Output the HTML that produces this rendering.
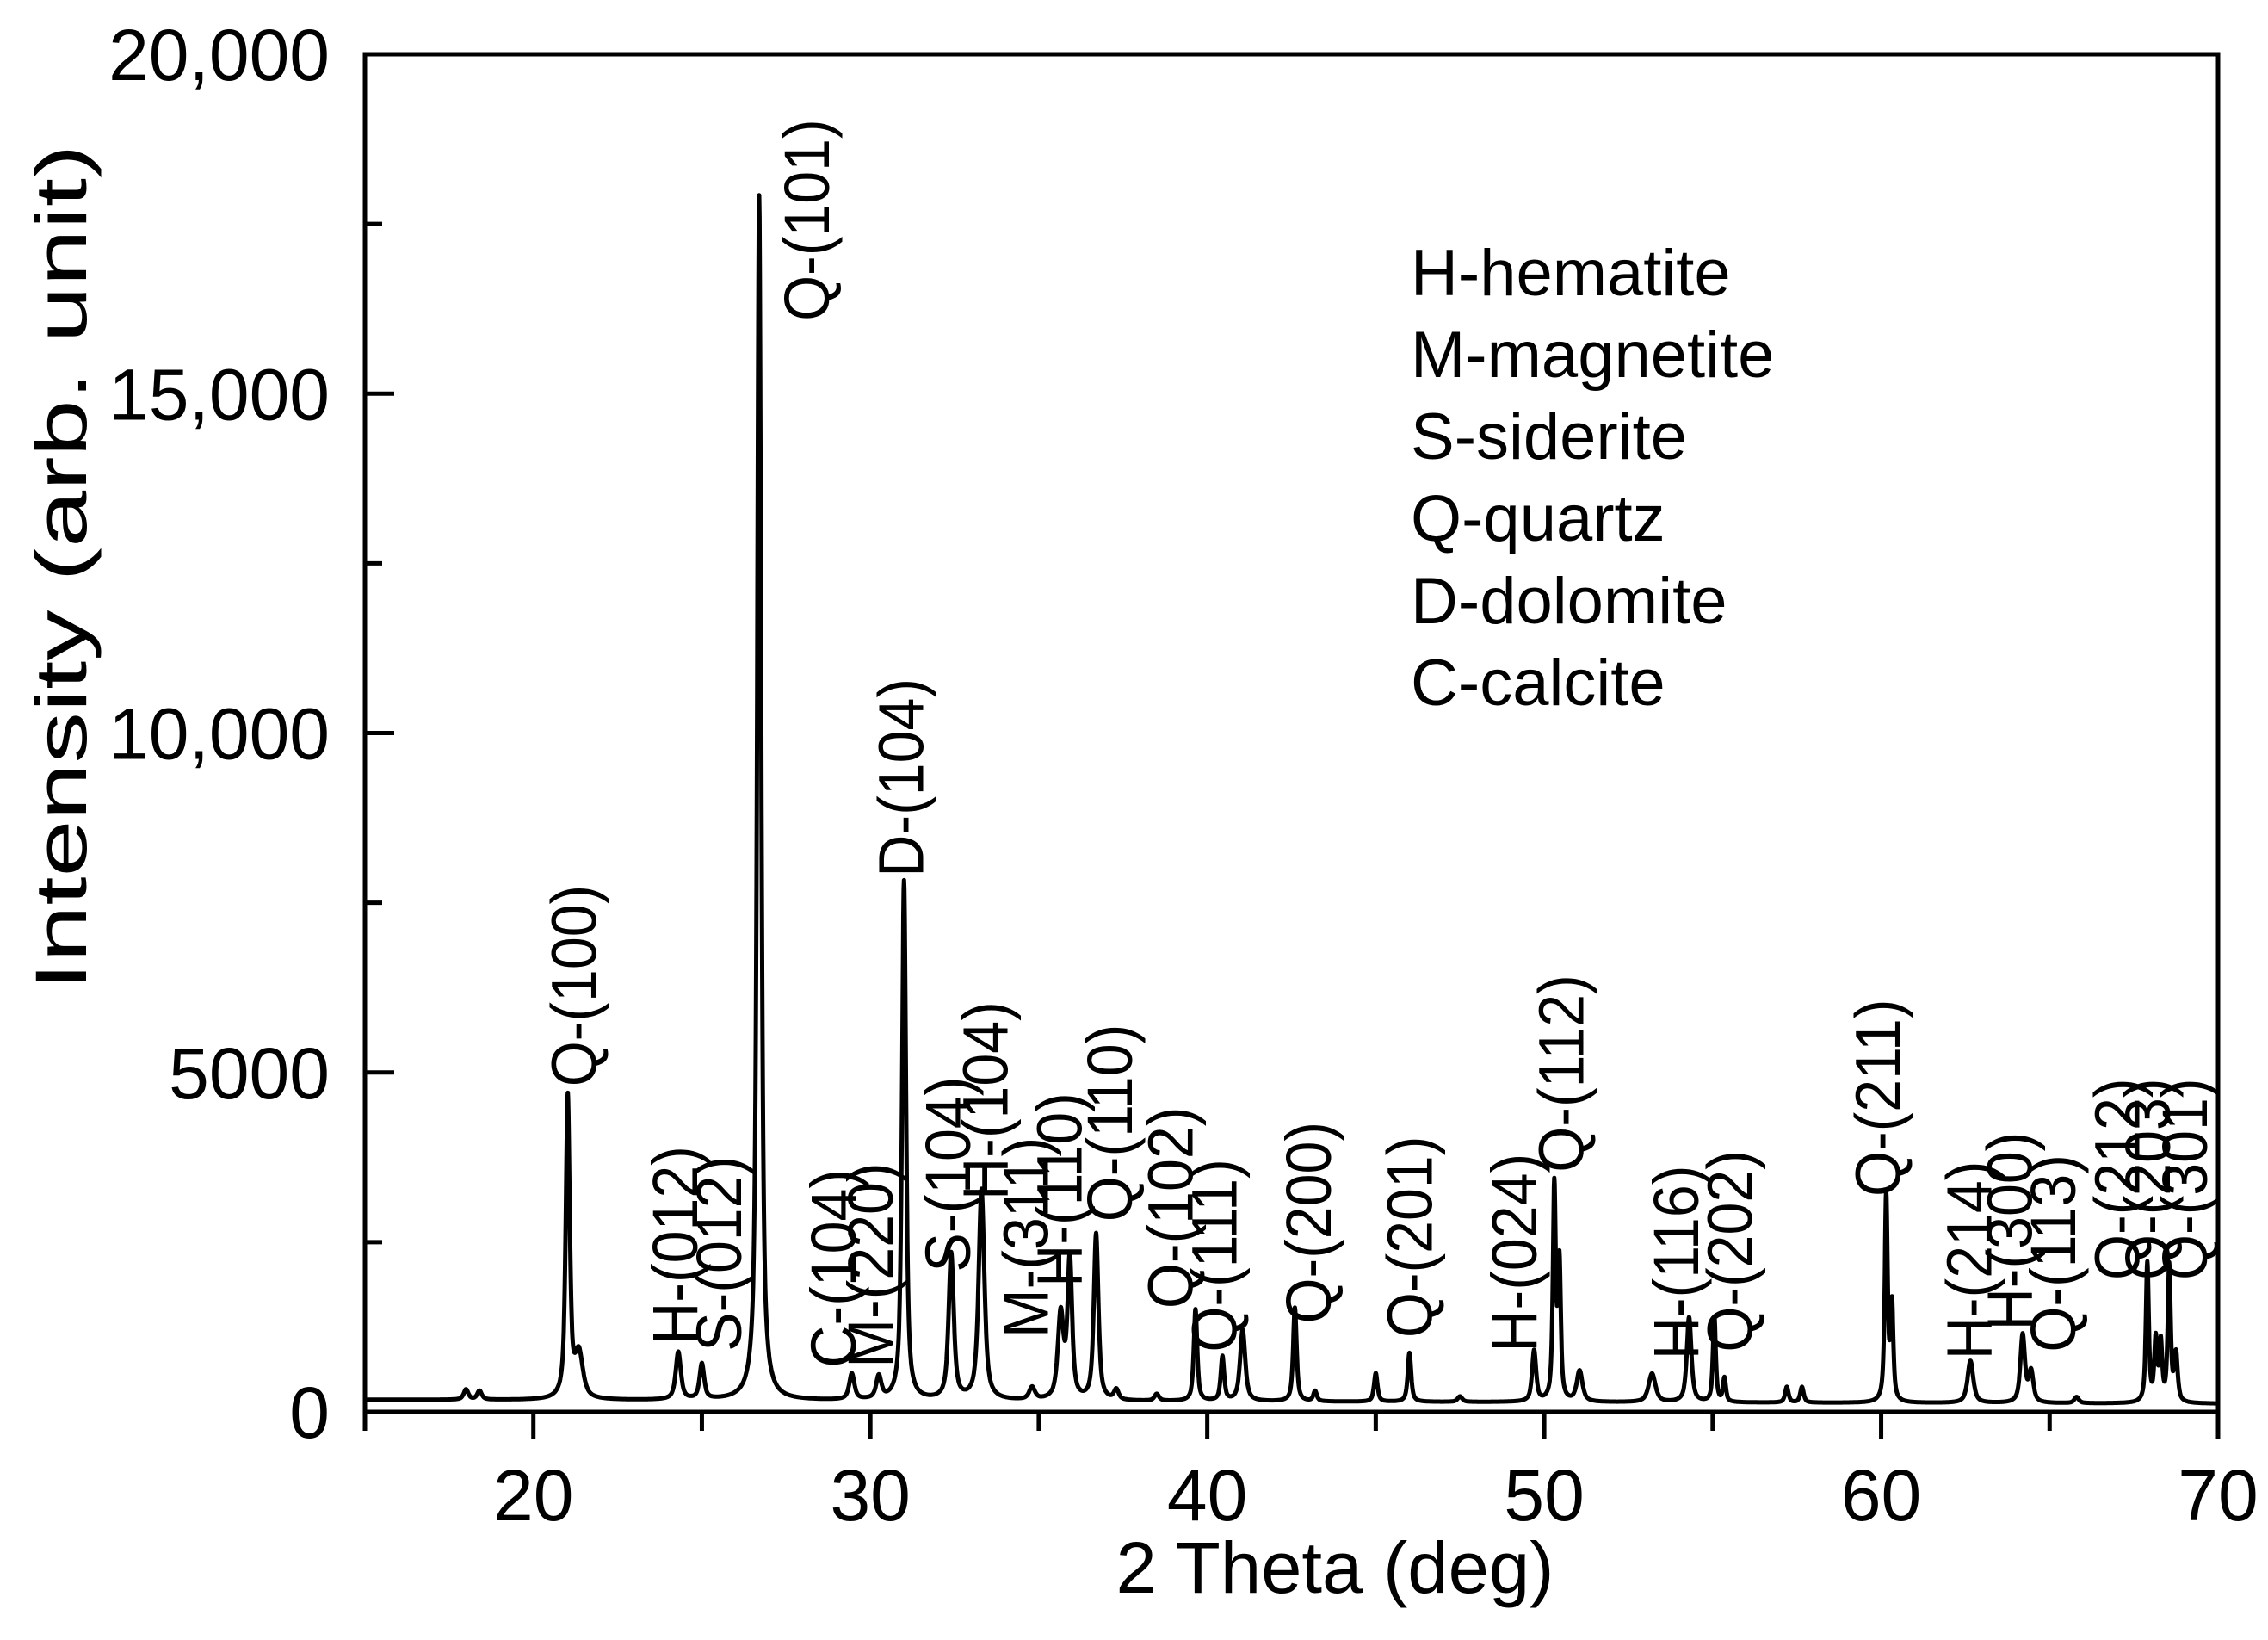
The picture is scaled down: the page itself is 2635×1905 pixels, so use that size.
<!DOCTYPE html>
<html><head><meta charset="utf-8"><style>
html,body{margin:0;padding:0;background:#fff}
svg{display:block}
text{font-family:"Liberation Sans",Arial,sans-serif;fill:#000}
</style></head><body>
<svg id="chart" width="2635" height="1905" viewBox="0 0 2635 1905" xmlns="http://www.w3.org/2000/svg">
<g id="legend" font-size="76">
<text x="1639" y="343">H-hematite</text>
<text x="1639" y="438">M-magnetite</text>
<text x="1639" y="533">S-siderite</text>
<text x="1639" y="628">Q-quartz</text>
<text x="1639" y="724">D-dolomite</text>
<text x="1639" y="819">C-calcite</text>
</g>
<text x="1551" y="1850" font-size="84" text-anchor="middle" textLength="509" lengthAdjust="spacingAndGlyphs">2 Theta (deg)</text>
<text transform="translate(100,659) rotate(-90)" font-size="84" text-anchor="middle" textLength="983" lengthAdjust="spacingAndGlyphs">Intensity (arb. unit)</text>
</svg>
<script>
const peakPos = [18.0,18.4,21.02,21.35,24.3,25.0,26.7,29.45,30.25,31.0,32.4,33.3,34.8,35.65,35.92,36.7,37.3,38.5,39.65,40.45,41.05,42.6,43.2,45.0,46.0,47.5,49.7,50.3,50.45,51.05,53.2,54.3,55.05,55.35,57.2,57.65,60.15,60.32,62.65,64.2,64.45,65.8,67.9,68.15,68.3,68.55,68.75];
const peakHeights = [150,130,4450,650,700,520,17750,380,330,7650,2150,3100,180,1250,2050,2450,150,100,1350,650,1050,1380,150,420,720,80,750,3150,2000,450,420,1250,1250,350,230,230,3050,1400,620,1000,450,90,2050,900,850,2000,700];
const peakWidths = [0.08,0.08,0.07,0.14,0.09,0.08,0.07,0.09,0.09,0.07,0.09,0.1,0.1,0.1,0.08,0.08,0.08,0.08,0.06,0.06,0.09,0.06,0.06,0.06,0.06,0.08,0.07,0.05,0.05,0.1,0.12,0.08,0.05,0.05,0.06,0.06,0.05,0.05,0.1,0.08,0.08,0.08,0.05,0.05,0.05,0.05,0.06];
const xTicks = [20,30,40,50,60,70];
const xTickLabels = ["20","30","40","50","60","70"];
const yTicks = [0,5000,10000,15000,20000];
const yTickLabels = ["0","5000","10,000","15,000","20,000"];
const peakLabels = ["Q-(100)","H-(012)","S-(012)","Q-(101)","C-(104)","M-(220)","D-(104)","S-(104)","H-(104)","M-(311)","H-(110)","Q-(110)","Q-(102)","Q-(111)","Q-(200)","Q-(201)","H-(024)","Q-(112)","H-(116)","Q-(202)","Q-(211)","H-(214)","H-(300)","Q-(113)","Q-(212)","Q-(203)","Q-(301)"];
const peakLabelX = [21.2,24.2,25.5,28.1,28.9,30.0,30.9,32.3,33.4,34.6,35.6,37.1,38.9,40.2,43.0,46.0,49.1,50.5,53.9,55.5,59.9,62.6,63.8,65.1,67.0,67.9,69.0];
const peakLabelY = [4790,990,890,16070,650,650,7880,2060,3120,1090,1840,2800,1520,880,1300,1090,880,3530,770,880,3170,770,1200,880,1940,1940,1940];
const baseL = 180, baseR = 120;

const svgNS = "http://www.w3.org/2000/svg";
const svg = document.getElementById('chart');
const X0=424, X1=2577, Y0=1640, Y1=63;
const xMin=15,xMax=70,yMin=0,yMax=20000;
function sx(v){return X0+(v-xMin)/(xMax-xMin)*(X1-X0);}
function sy(v){return Y0-(v-yMin)/(yMax-yMin)*(Y0-Y1);}
function mk(tag,attrs){const e=document.createElementNS(svgNS,tag);for(const k in attrs)e.setAttribute(k,attrs[k]);svg.appendChild(e);return e;}

let d="";
for(let t=15.0;t<=70.0001;t+=0.01){
  let v=baseL+(baseR-baseL)*(t-15)/55;
  for(let i=0;i<peakPos.length;i++){
    const u=(t-peakPos[i])/peakWidths[i];
    v+=peakHeights[i]*(0.7/(1+u*u)+0.3*Math.exp(-u*u*0.693));
  }
  d+=(d?"L":"M")+sx(t).toFixed(1)+","+sy(v).toFixed(1);
}
const line=mk('path',{d:d,fill:'none',stroke:'#000','stroke-width':5,'stroke-linejoin':'round'});



const frame=mk('rect',{x:X0,y:Y1,width:X1-X0,height:Y0-Y1,fill:'none',stroke:'#000','stroke-width':5});



for(let v=15;v<=70;v+=5){
  const major=v%10===0;
  const tk=mk('line',{x1:sx(v),x2:sx(v),y1:Y0,y2:Y0+(major?32:22),stroke:'#000','stroke-width':5});
  
  
}
xTicks.forEach((v,i)=>{
  const t=mk('text',{x:sx(v),y:1766,'font-size':84,'text-anchor':'middle'});
  t.textContent=xTickLabels[i];
  
  
});
for(let v=0;v<=20000;v+=2500){
  const major=v%5000===0;
  const tk=mk('line',{x1:X0,x2:X0+(major?34:20),y1:sy(v),y2:sy(v),stroke:'#000','stroke-width':5});
  
  
}
yTicks.forEach((v,i)=>{
  const t=mk('text',{x:383,y:sy(v)+30,'font-size':84,'text-anchor':'end'});
  t.textContent=yTickLabels[i];
  
  
});
peakLabels.forEach((s,i)=>{
  const x=sx(peakLabelX[i])+26, y=sy(peakLabelY[i]);
  const t=mk('text',{transform:`translate(${x.toFixed(1)},${y.toFixed(1)}) rotate(-90) scale(0.92,1)`,'font-size':74});
  t.textContent=s;
  
  
});
</script>
</body></html>
